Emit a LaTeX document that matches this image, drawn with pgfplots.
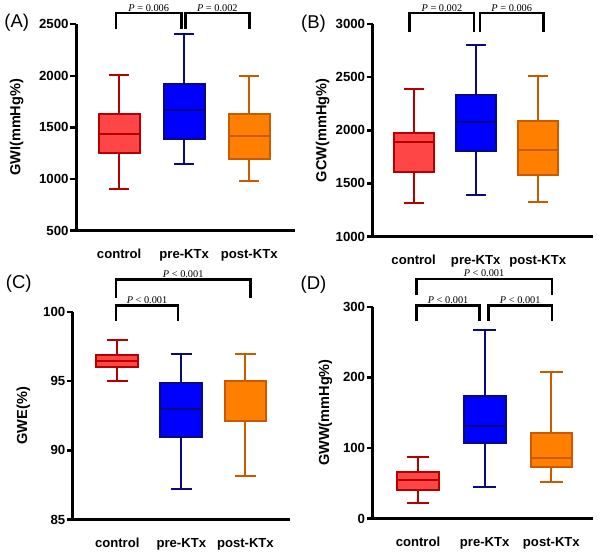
\documentclass[border=0pt]{standalone}
\usepackage{fontspec}
\setmainfont{Liberation Sans}
\newfontfamily\tnr{Liberation Serif}
\usepackage{pgfplots}
\pgfplotsset{compat=1.18}
\definecolor{redfill}{HTML}{FF4646}
\definecolor{rededge}{HTML}{B40000}
\definecolor{bluefill}{HTML}{0000FF}
\definecolor{blueedge}{HTML}{0A0A80}
\definecolor{orangefill}{HTML}{FF8000}
\definecolor{orangeedge}{HTML}{C85A00}
\newcommand{\ptfont}{\tnr\fontsize{7.8}{8}\selectfont}
% bracket: x1, x2, xmid, ytop, yend, label
\newcommand{\pbr}[6]{%
  \draw[line width=2pt] (axis cs:#1,#5) -- (axis cs:#1,#4) -- (axis cs:#2,#4) -- (axis cs:#2,#5);
  \node[anchor=south, inner sep=1.2pt, font=\ptfont] at (axis cs:#3,#4) {#6};}
% box: #1 edge colour, #2 fill colour, #3 position, #4 lower whisker, #5 Q1, #6 median, #7 Q3, #8 upper whisker
\newcommand{\bx}[8]{%
  \pgfmathsetmacro\xbl{#3-\hb}\pgfmathsetmacro\xbr{#3+\hb}%
  \pgfmathsetmacro\xcl{#3-\hc}\pgfmathsetmacro\xcr{#3+\hc}%
  \addplot[draw=#1, line width=1.5pt] coordinates {(#3,#7) (#3,#8)};
  \addplot[draw=#1, line width=1.5pt] coordinates {(\xcl,#8) (\xcr,#8)};
  \addplot[draw=#1, line width=1.5pt] coordinates {(#3,#5) (#3,#4)};
  \addplot[draw=#1, line width=1.5pt] coordinates {(\xcl,#4) (\xcr,#4)};
  \addplot[draw=#1, fill=#2, line width=1.5pt, line join=miter] coordinates {(\xbl,#5) (\xbr,#5) (\xbr,#7) (\xbl,#7)} -- cycle;
  \addplot[draw=#1, line width=1.5pt] coordinates {(\xbl,#6) (\xbr,#6)};
}
\pgfplotsset{
  panel/.style={
    scale only axis, clip=false, anchor=south west,
    axis x line*=bottom, axis y line*=left,
    axis line style={line width=2.2pt, -},
    tick align=outside, major tick length=4.5pt,
    ytick style={line width=1.8pt, black},
    xtick style={draw=none},
    xtick={1,2,3}, xticklabels={control,pre-KTx,post-KTx},
    xticklabel style={font=\bfseries\fontsize{9.9}{10}\selectfont, yshift=-6pt},
    yticklabel style={font=\bfseries\fontsize{10}{10}\selectfont, inner xsep=1pt},
    /pgf/number format/assume math mode=true,
    /pgf/number format/1000 sep={},
    ylabel style={font=\bfseries\fontsize{11}{12}\selectfont, anchor=center},
  },
}
\begin{document}
\begin{tikzpicture}
\path (0,0) rectangle (450pt,-413.25pt);
% ---------------- (A) GWI
\def\hb{0.315}\def\hc{0.155}
\begin{axis}[panel, at={(54.2pt,-174.2pt)}, width=165.5pt, height=156pt,
  xmin=0.337, xmax=3.707, ymin=500, ymax=2500, ytick={500,1000,1500,2000,2500},
  ylabel={GWI(mmHg\%)}, ylabel style={at={(axis description cs:-0.271,0.5)}}]
\bx{rededge}{redfill}{1}{907}{1253}{1436}{1625}{2003}
\bx{blueedge}{bluefill}{2}{1144}{1388}{1666}{1919}{2404}
\bx{orangeedge}{orangefill}{3}{981}{1195}{1420}{1625}{1996}
\pbr{0.95}{1.96}{1.455}{2606}{2452}{\itshape P\upshape{} = 0.006}
\pbr{2.02}{3.0}{2.51}{2606}{2452}{\itshape P\upshape{} = 0.002}
\end{axis}
% ---------------- (B) GCW
\def\hb{0.32}\def\hc{0.16}
\begin{axis}[panel, at={(278.25pt,-178.7pt)}, width=166.5pt, height=160.5pt,
  xmin=0.339, xmax=3.89, ymin=1000, ymax=3000, ytick={1000,1500,2000,2500,3000},
  ylabel={GCW(mmHg\%)}, ylabel style={at={(axis description cs:-0.227,0.5)}}]
\bx{rededge}{redfill}{1}{1313}{1610}{1891}{1976}{2393}
\bx{blueedge}{bluefill}{2}{1394}{1803}{2075}{2335}{2800}
\bx{orangeedge}{orangefill}{3}{1325}{1578}{1813}{2091}{2510}
\pbr{0.936}{1.973}{1.455}{3103}{2925}{\itshape P\upshape{} = 0.002}
\pbr{2.067}{3.096}{2.58}{3103}{2925}{\itshape P\upshape{} = 0.006}
\end{axis}
% ---------------- (C) GWE
\def\hb{0.325}\def\hc{0.167}
\begin{axis}[panel, at={(51.75pt,-392.5pt)}, width=164.25pt, height=156.75pt,
  xmin=0.307, xmax=3.70, ymin=85, ymax=100, ytick={85,90,95,100},
  ylabel={GWE(\%)}, ylabel style={at={(axis description cs:-0.228,0.5)}}]
\bx{rededge}{redfill}{1}{95.0}{96.05}{96.48}{96.91}{97.99}
\bx{blueedge}{bluefill}{2}{87.2}{90.98}{92.97}{94.9}{96.96}
\bx{orangeedge}{orangefill}{3}{88.16}{92.1}{95.0}{95.0}{97.0}
\pbr{0.983}{1.947}{1.465}{100.47}{99.35}{\itshape P\upshape{} < 0.001}
\pbr{0.983}{3.08}{2.03}{102.34}{101.03}{\itshape P\upshape{} < 0.001}
\end{axis}
% ---------------- (D) GWW
\def\hb{0.3125}\def\hc{0.17}
\begin{axis}[panel, at={(278.25pt,-391.7pt)}, width=166.5pt, height=160pt,
  xmin=0.32, xmax=3.625, ymin=0, ymax=300, ytick={0,100,200,300},
  ylabel={GWW(mmHg\%)}, ylabel style={at={(axis description cs:-0.215,0.5)}}]
\bx{rededge}{redfill}{1}{21.6}{40.3}{54.9}{65.2}{87.7}
\bx{blueedge}{bluefill}{2}{44}{106.4}{130.8}{173}{267.7}
\bx{orangeedge}{orangefill}{3}{51.1}{73.1}{86.3}{121.4}{207.7}
\pbr{0.975}{1.927}{1.451}{301.8}{279.9}{\itshape P\upshape{} < 0.001}
\pbr{2.057}{3.01}{2.533}{301.8}{279.9}{\itshape P\upshape{} < 0.001}
\pbr{0.975}{3.01}{1.99}{339.4}{317.3}{\itshape P\upshape{} < 0.001}
\end{axis}
% panel letters
\node[font=\fontsize{14}{14}\selectfont] at (9.4pt,-17.25pt) {(A)};
\node[font=\fontsize{14}{14}\selectfont] at (233.6pt,-18pt) {(B)};
\node[font=\fontsize{14}{14}\selectfont] at (10.9pt,-214.5pt) {(C)};
\node[font=\fontsize{14}{14}\selectfont] at (233.6pt,-215.25pt) {(D)};
\end{tikzpicture}
\end{document}
